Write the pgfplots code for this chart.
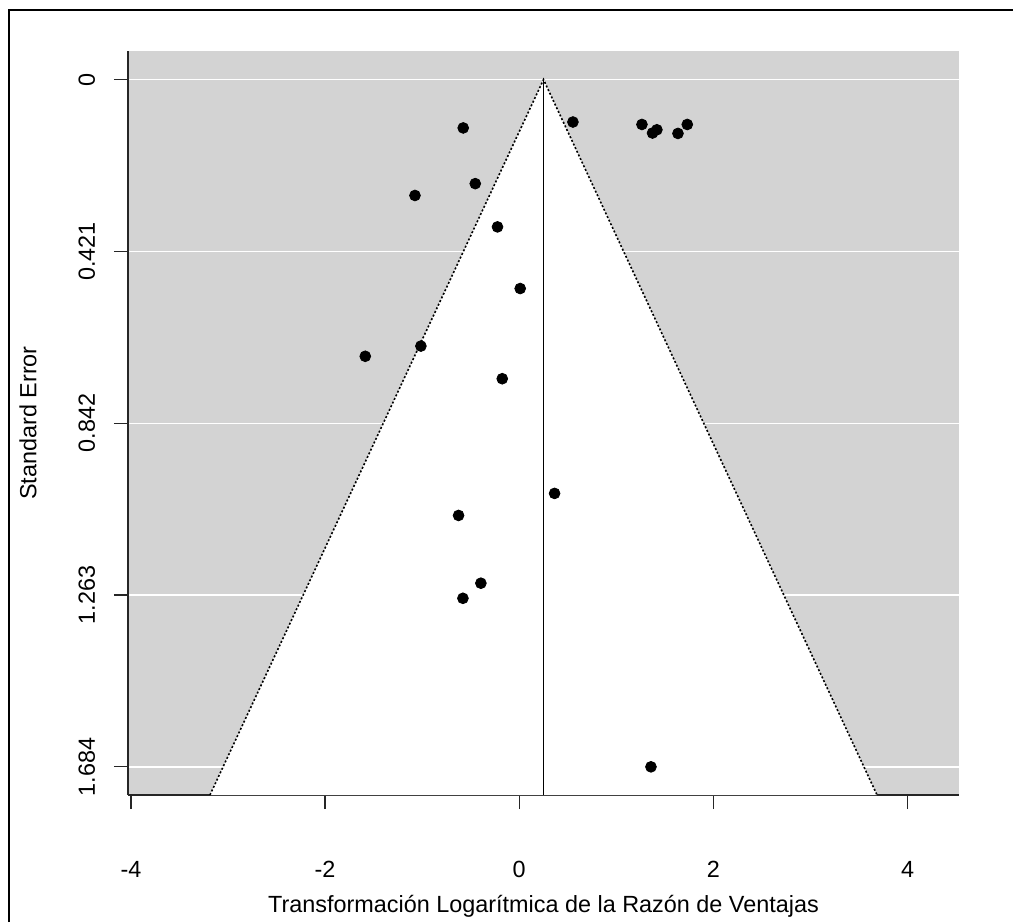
\documentclass[border=0pt]{standalone}
\usepackage{pgfplots}
\pgfplotsset{compat=1.18}
\usepackage{fontspec}
\setmainfont{Liberation Sans}
\definecolor{rgray}{HTML}{D3D3D3}
\begin{document}
\begin{tikzpicture}
\useasboundingbox (0,0) rectangle (506.5pt,461pt);
\draw[line width=1pt] (4.5pt,0) -- (4.5pt,456pt) -- (506.5pt,456pt);
\begin{axis}[
  at={(64pt,63.5pt)}, anchor=south west,
  width=415.5pt, height=372pt, scale only axis,
  xmin=-4.03, xmax=4.53, ymin=-0.07, ymax=1.753, y dir=reverse,
  axis x line*=bottom, axis y line*=left,
  axis background/.style={fill=rgray},
  ymajorgrids, grid style={white, line width=0.7pt},
  xtick={-4,-2,0,2,4}, xticklabels={-4,-2,0,2,4},
  ytick={0,0.421,0.842,1.263,1.684}, yticklabels={0,0.421,0.842,1.263,1.684},
  minor tick num=0,
  tick align=outside, major tick length=7pt,
  axis line style={black!85, line width=0.6pt},
  tick style={black!85, line width=0.6pt},
  every tick label/.append style={font=\fontsize{11.7}{14}\selectfont, inner sep=0pt},
  xticklabel shift=5pt,
  xticklabel style={anchor=base, yshift=-29pt},
  yticklabel style={xshift=-9.6pt, rotate=90, anchor=base},
  xlabel={Transformación Logarítmica de la Razón de Ventajas},
  ylabel={Standard Error},
  every axis x label/.style={at={(rel axis cs:0.5,0)}, anchor=base, yshift=-58.8pt, font=\fontsize{11.7}{14}\selectfont},
  every axis y label/.style={at={(rel axis cs:0,0.5)}, xshift=-50pt, rotate=90, anchor=center, font=\fontsize{11.7}{14}\selectfont},
]
\addplot[fill=white, draw=none] coordinates {(-3.186,1.753) (0.25,0) (3.686,1.753)} -- cycle;
\addplot[black, line width=0.8pt, dash pattern=on 1pt off 1pt] coordinates {(-3.186,1.753) (0.25,0) (3.686,1.753)};
\addplot[black, line width=0.6pt] coordinates {(0.25,0) (0.25,1.753)};
\addplot[only marks, mark=*, mark size=2.7pt, black] coordinates {
(-0.577,0.1185) (0.553,0.104) (1.264,0.110) (1.373,0.131) (1.418,0.123)
(1.635,0.132) (1.731,0.110) (-0.453,0.255) (-1.074,0.284) (-0.224,0.361)
(0.010,0.512) (-1.586,0.678) (-1.013,0.653) (-0.175,0.733) (0.364,1.014)
(-0.625,1.068) (-0.395,1.234) (-0.580,1.271) (1.357,1.684)
};
\end{axis}
\end{tikzpicture}
\end{document}
